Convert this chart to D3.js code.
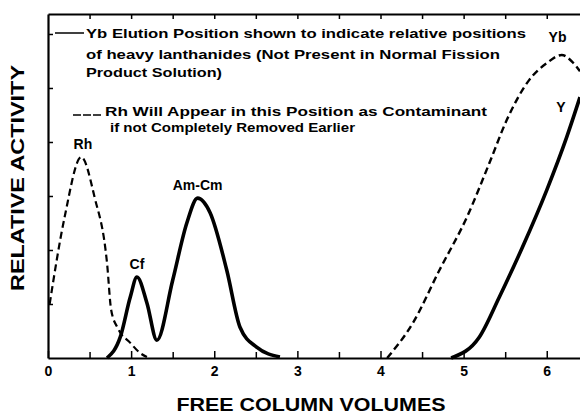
<!DOCTYPE html>
<html>
<head>
<meta charset="utf-8">
<script src="https://cdn.jsdelivr.net/npm/d3@7"></script>
<style>
  body { margin: 0; background: #fff; }
  svg { display: block; }
  text { font-family: "Liberation Sans", Arial, sans-serif; fill: #000; }
</style>
</head>
<body>
<svg width="580" height="414"></svg>
<script>
// elution curves (x = free column volumes, y = relative activity)
const rhX = [0.02, 0.2, 0.4, 0.56, 0.71, 0.76, 0.84, 0.99, 1.11, 1.19];
const rhY = [1.0, 2.61, 3.72, 2.98, 1.76, 0.89, 0.55, 0.28, 0.09, 0.02];

const amX = [0.71, 0.87, 0.99, 1.07, 1.19, 1.31, 1.5, 1.67, 1.8, 1.95, 2.15, 2.31, 2.51, 2.79];
const amY = [0, 0.39, 1.13, 1.5, 1.02, 0.33, 1.44, 2.5, 2.96, 2.69, 1.63, 0.57, 0.2, 0.02];

const ybX = [4.08, 4.39, 4.71, 5.04, 5.31, 5.52, 5.79, 6.0, 6.18, 6.31, 6.4];
const ybY = [0, 0.65, 1.63, 2.61, 3.61, 4.41, 5.15, 5.46, 5.61, 5.48, 5.31];

const yX = [4.85, 5.19, 5.43, 5.71, 6.0, 6.24, 6.4];
const yY = [0, 0.39, 1.13, 2.06, 3.11, 4.09, 4.83];

const xTicks = [0, 1, 2, 3, 4, 5, 6];
const xHalfTicks = [0.5, 1.5, 2.5, 3.5, 4.5, 5.5];
const topTicks = [0.5, 1, 1.5, 2, 2.5, 3, 3.5, 4, 4.5, 5, 5.5, 6];
const yTicks = [1, 2, 3, 4, 5, 6];

const legend1 = ["Yb Elution Position shown to indicate relative positions",
                 "of heavy lanthanides (Not Present in Normal Fission",
                 "Product Solution)"];
const legend2 = ["Rh Will Appear in this Position as Contaminant",
                 "if not Completely Removed Earlier"];

const svg = d3.select('svg');
const x = d3.scaleLinear().domain([0, 6.4]).range([48, 580]);
const y = d3.scaleLinear().domain([0, 6.37]).range([358, 14]);

const line = d3.line()
  .x(d => x(d[0]))
  .y(d => y(d[1]))
  .curve(d3.curveMonotoneX);

const zip = (a, b) => a.map((v, i) => [v, b[i]]);

// frame: left, top, bottom axes
svg.append('g')
  .attr('transform', `translate(0,${y(0)})`)
  .call(d3.axisBottom(x).tickValues(xTicks).tickFormat(d3.format('d'))
    .tickSizeInner(-7).tickSizeOuter(0).tickPadding(8))
  .call(g => g.selectAll('text').attr('font-size', 14).attr('font-weight', 'bold')
    .attr('font-family', '"Liberation Sans", Arial, sans-serif'));
svg.append('g')
  .attr('transform', `translate(0,${y(0)})`)
  .call(d3.axisBottom(x).tickValues(xHalfTicks).tickFormat('')
    .tickSizeInner(-6).tickSizeOuter(0))
  .call(g => g.select('.domain').remove());
svg.append('g')
  .attr('transform', `translate(0,${y(6.37)})`)
  .call(d3.axisTop(x).tickValues(topTicks).tickFormat('')
    .tickSizeInner(-5).tickSizeOuter(0));
svg.append('g')
  .attr('transform', `translate(${x(0)},0)`)
  .call(d3.axisLeft(y).tickValues(yTicks).tickFormat('')
    .tickSizeInner(-5).tickSizeOuter(0));
svg.selectAll('.domain').attr('stroke-width', 2.2);
svg.selectAll('.tick line').attr('stroke-width', 1.5);

// curves
svg.append('path').datum(zip(rhX, rhY))
  .attr('d', line).attr('fill', 'none').attr('stroke', '#000')
  .attr('stroke-width', 2.2).attr('stroke-dasharray', '7,4');
svg.append('path').datum(zip(ybX, ybY))
  .attr('d', line).attr('fill', 'none').attr('stroke', '#000')
  .attr('stroke-width', 2.4).attr('stroke-dasharray', '7,4');
svg.append('path').datum(zip(amX, amY))
  .attr('d', line).attr('fill', 'none').attr('stroke', '#000')
  .attr('stroke-width', 3.6).attr('stroke-linejoin', 'round');
svg.append('path').datum(zip(yX, yY))
  .attr('d', line).attr('fill', 'none').attr('stroke', '#000')
  .attr('stroke-width', 3.6);

// peak labels
const peaks = [
  {t: 'Rh', x: 0.42, y: 3.87},
  {t: 'Cf', x: 1.07, y: 1.65},
  {t: 'Am-Cm', x: 1.8, y: 3.12},
  {t: 'Yb', x: 6.13, y: 5.85},
  {t: 'Y', x: 6.17, y: 4.55}
];
svg.append('g').selectAll('text').data(peaks).enter().append('text')
  .attr('x', d => x(d.x)).attr('y', d => y(d.y))
  .attr('text-anchor', 'middle')
  .attr('font-size', 14).attr('font-weight', 'bold')
  .text(d => d.t);

// legend
svg.append('line').attr('x1', 55).attr('x2', 84).attr('y1', 33).attr('y2', 33)
  .attr('stroke', '#000').attr('stroke-width', 1.5);
const l1 = svg.append('g');
l1.selectAll('text').data(legend1).enter().append('text')
  .attr('x', 86).attr('y', (d, i) => [38, 59, 77][i])
  .attr('font-size', 13).attr('font-weight', 'bold')
  .attr('textLength', (d, i) => [440, 414, 136][i])
  .attr('lengthAdjust', 'spacingAndGlyphs')
  .text(d => d);
svg.append('line').attr('x1', 73).attr('x2', 103).attr('y1', 115).attr('y2', 115)
  .attr('stroke', '#000').attr('stroke-width', 1.5).attr('stroke-dasharray', '8,2');
const l2 = svg.append('g');
l2.selectAll('text').data(legend2).enter().append('text')
  .attr('x', (d, i) => [105, 110][i]).attr('y', (d, i) => [116, 132][i])
  .attr('font-size', 13).attr('font-weight', 'bold')
  .attr('textLength', (d, i) => [382, 245][i])
  .attr('lengthAdjust', 'spacingAndGlyphs')
  .text(d => d);

// axis titles
svg.append('text')
  .attr('x', 311).attr('y', 411)
  .attr('text-anchor', 'middle')
  .attr('font-size', 19).attr('font-weight', 'bold')
  .attr('textLength', 269).attr('lengthAdjust', 'spacingAndGlyphs')
  .text('FREE COLUMN VOLUMES');
svg.append('text')
  .attr('transform', 'translate(24,178) rotate(-90)')
  .attr('text-anchor', 'middle')
  .attr('font-size', 19).attr('font-weight', 'bold')
  .attr('textLength', 226).attr('lengthAdjust', 'spacingAndGlyphs')
  .text('RELATIVE ACTIVITY');
</script>
</body>
</html>
